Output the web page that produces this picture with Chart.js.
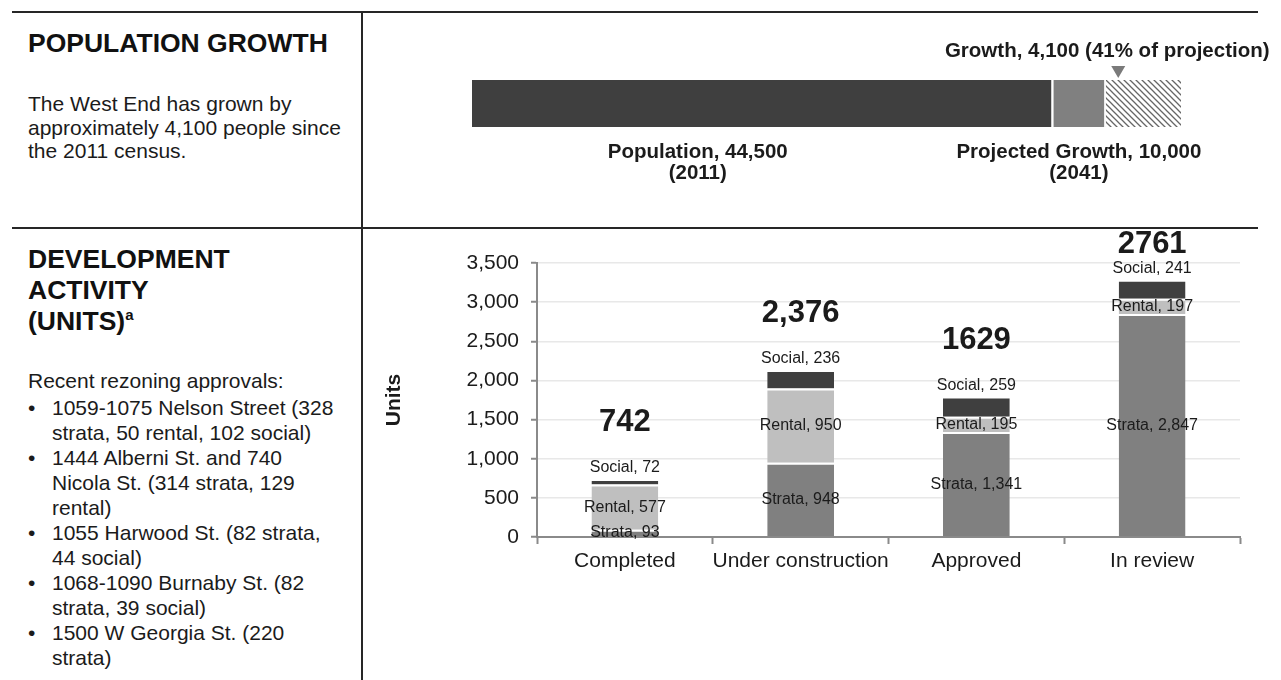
<!DOCTYPE html>
<html><head><meta charset="utf-8">
<script src="https://cdn.jsdelivr.net/npm/chart.js@4.4.1/dist/chart.umd.min.js"></script>
<style>
html,body{margin:0;padding:0;background:#fff;}
body{width:1281px;height:680px;position:relative;overflow:hidden;font-family:"Liberation Sans",Arial,sans-serif;color:#1b1b1b;}
.rule{position:absolute;background:#262626;}
.h{position:absolute;left:28px;font-weight:bold;font-size:26.5px;white-space:nowrap;color:#111;}
.p{position:absolute;left:28px;font-size:21px;white-space:nowrap;}
ul{list-style:none;margin:0;padding:0;}
li{position:relative;padding-left:24px;}
li::before{content:"\2022";position:absolute;left:0;}
canvas{position:absolute;}
</style>
</head><body>
<div class="rule" style="left:12px;top:11px;width:1246px;height:2px"></div>
<div class="rule" style="left:12px;top:227px;width:1246px;height:2px"></div>
<div class="rule" style="left:361px;top:11px;width:2px;height:669px"></div>

<div class="h" style="top:29.6px;line-height:26.5px">POPULATION GROWTH</div>
<div class="p" style="top:92px;line-height:23.5px">The West End has grown by<br>approximately 4,100 people since<br>the 2011 census.</div>

<div class="h" style="top:244px;line-height:31px">DEVELOPMENT<br>ACTIVITY<br>(UNITS)<span style="font-size:15px;position:relative;top:-10px">a</span></div>
<div class="p" style="top:368px;line-height:25px">Recent rezoning approvals:</div>
<div class="p" style="top:395px;line-height:25px">
<ul>
<li>1059-1075 Nelson Street (328<br>strata, 50 rental, 102 social)</li>
<li>1444 Alberni St. and 740<br>Nicola St. (314 strata, 129<br>rental)</li>
<li>1055 Harwood St. (82 strata,<br>44 social)</li>
<li>1068-1090 Burnaby St. (82<br>strata, 39 social)</li>
<li>1500 W Georgia St. (220<br>strata)</li>
</ul>
</div>

<canvas id="pop" width="919" height="212" style="left:362px;top:14px"></canvas>
<canvas id="dev" width="919" height="452" style="left:362px;top:228px"></canvas>

<script>
// ---------- Population growth data ----------
const popCategories = ['West End'];
const populationValues = [44500];
const growthValues = [4100];
const remainingProjectionValues = [5900];
const popLabelLines = ['Population, 44,500', '(2011)'];
const projLabelLines = ['Projected Growth, 10,000', '(2041)'];
const growthLabel = 'Growth, 4,100 (41% of projection)';

// ---------- Development activity data ----------
const devCategories = ['Completed', 'Under construction', 'Approved', 'In review'];
const strataValues = [93, 948, 1341, 2847];
const rentalValues = [577, 950, 195, 197];
const socialValues = [72, 236, 259, 241];
const totalLabels = ['742', '2,376', '1629', '2761'];
const yTickMax = 3500;
const yTickStep = 500;

const FONT = '"Liberation Sans", Arial, sans-serif';
Chart.defaults.font.family = FONT;
Chart.defaults.color = '#1b1b1b';

function makeHatch() {
  const c = document.createElement('canvas');
  c.width = 6; c.height = 6;
  const g = c.getContext('2d');
  g.fillStyle = '#ffffff'; g.fillRect(0, 0, 6, 6);
  g.strokeStyle = '#666666'; g.lineWidth = 1.3;
  g.beginPath();
  g.moveTo(0, 0); g.lineTo(6, 6);
  g.moveTo(-3, 3); g.lineTo(3, 9);
  g.moveTo(3, -3); g.lineTo(9, 3);
  g.stroke();
  return g.createPattern(c, 'repeat');
}

const popLabelsPlugin = {
  id: 'popLabels',
  afterDatasetsDraw(chart) {
    const { ctx, chartArea, scales: { x } } = chart;
    const popEnd = x.getPixelForValue(populationValues[0]);
    const growthEnd = x.getPixelForValue(populationValues[0] + growthValues[0]);
    ctx.save();
    ctx.fillStyle = '#1b1b1b';
    ctx.textAlign = 'center';
    ctx.textBaseline = 'middle';
    ctx.font = 'bold 20.5px ' + FONT;
    const popCx = chartArea.left + (popEnd - chartArea.left) * 0.39;
    ctx.fillText(popLabelLines[0], popCx, chartArea.bottom + 25);
    ctx.fillText(popLabelLines[1], popCx, chartArea.bottom + 46);
    const projCx = popEnd + 28;
    ctx.fillText(projLabelLines[0], projCx, chartArea.bottom + 25);
    ctx.fillText(projLabelLines[1], projCx, chartArea.bottom + 46);
    ctx.fillText(growthLabel, growthEnd + 3, chartArea.top - 29);
    // marker triangle
    const tx = growthEnd + 14;
    ctx.fillStyle = '#7a7a7a';
    ctx.beginPath();
    ctx.moveTo(tx - 7, chartArea.top - 14);
    ctx.lineTo(tx + 7, chartArea.top - 14);
    ctx.lineTo(tx, chartArea.top - 2);
    ctx.closePath();
    ctx.fill();
    ctx.restore();
  }
};

new Chart(document.getElementById('pop'), {
  type: 'bar',
  data: {
    labels: popCategories,
    datasets: [
      { label: 'Population', data: populationValues, backgroundColor: '#3f3f3f', borderWidth: 0 },
      { label: 'Growth', data: growthValues, backgroundColor: '#808080', borderColor: '#ffffff',
        borderWidth: { left: 3, right: 0, top: 0, bottom: 0 }, borderSkipped: false },
      { label: 'Remaining projection', data: remainingProjectionValues, backgroundColor: makeHatch(), borderColor: '#ffffff',
        borderWidth: { left: 2, right: 0, top: 0, bottom: 0 }, borderSkipped: false }
    ]
  },
  options: {
    indexAxis: 'y',
    responsive: false,
    animation: false,
    devicePixelRatio: 1,
    datasets: { bar: { barPercentage: 1, categoryPercentage: 1 } },
    layout: { padding: { left: 110, right: 100, top: 66, bottom: 99 } },
    scales: {
      x: { stacked: true, display: false, min: 0,
           max: populationValues[0] + growthValues[0] + remainingProjectionValues[0] },
      y: { stacked: true, display: false }
    },
    plugins: { legend: { display: false }, tooltip: { enabled: false } }
  },
  plugins: [popLabelsPlugin]
});

const devLabelsPlugin = {
  id: 'devLabels',
  afterDatasetsDraw(chart) {
    const { ctx, chartArea } = chart;
    ctx.save();
    ctx.fillStyle = '#1b1b1b';
    ctx.textAlign = 'center';
    ctx.textBaseline = 'middle';
    ctx.font = '16px ' + FONT;
    chart.data.datasets.forEach((ds, di) => {
      const meta = chart.getDatasetMeta(di);
      meta.data.forEach((bar, i) => {
        const text = ds.label + ', ' + ds.data[i].toLocaleString('en-US');
        const y = di === 2 ? bar.y - 11 : (bar.y + bar.base) / 2;
        ctx.fillText(text, bar.x, y);
      });
    });
    ctx.font = 'bold 31px ' + FONT;
    const topMeta = chart.getDatasetMeta(2);
    topMeta.data.forEach((bar, i) => {
      const y = Math.max(bar.y - 56, chartArea.top - 19);
      ctx.fillText(totalLabels[i], bar.x, y);
    });
    ctx.restore();
  }
};

const segBorder = { top: 2, left: 0, right: 0, bottom: 0 };
new Chart(document.getElementById('dev'), {
  type: 'bar',
  data: {
    labels: devCategories,
    datasets: [
      { label: 'Strata', data: strataValues, backgroundColor: '#808080', borderColor: '#ffffff', borderWidth: segBorder, borderSkipped: false },
      { label: 'Rental', data: rentalValues, backgroundColor: '#bfbfbf', borderColor: '#ffffff', borderWidth: segBorder, borderSkipped: false },
      { label: 'Social', data: socialValues, backgroundColor: '#3f3f3f', borderColor: '#ffffff', borderWidth: segBorder, borderSkipped: false }
    ]
  },
  options: {
    responsive: false,
    animation: false,
    devicePixelRatio: 1,
    datasets: { bar: { barPercentage: 0.38, categoryPercentage: 1 } },
    layout: { padding: { left: 0, right: 41, top: 35, bottom: 103 } },
    scales: {
      x: {
        stacked: true,
        ticks: { font: { size: 21 }, color: '#1b1b1b', padding: 5, autoSkip: false, maxRotation: 0, minRotation: 0 },
        grid: { display: true, drawOnChartArea: false, offset: true, tickLength: 7, tickColor: '#8a8a8a', tickWidth: 2 },
        border: { color: '#8a8a8a', width: 2 },
        afterFit(s) { s.height = 40; }
      },
      y: {
        stacked: true,
        min: 0, max: yTickMax,
        ticks: { stepSize: yTickStep, font: { size: 21 }, color: '#1b1b1b', padding: 12,
                 callback: v => v.toLocaleString('en-US') },
        grid: { color: '#e8e8e8', lineWidth: 1.5, tickLength: 6, tickColor: '#8a8a8a', tickWidth: 2 },
        border: { color: '#8a8a8a', width: 2 },
        title: { display: true, text: 'Units', font: { size: 21, weight: 'bold' }, color: '#1b1b1b', padding: { top: 20, bottom: 0 } },
        afterFit(s) { s.width = 175; }
      }
    },
    plugins: { legend: { display: false }, tooltip: { enabled: false } }
  },
  plugins: [devLabelsPlugin]
});
</script>
</body></html>
